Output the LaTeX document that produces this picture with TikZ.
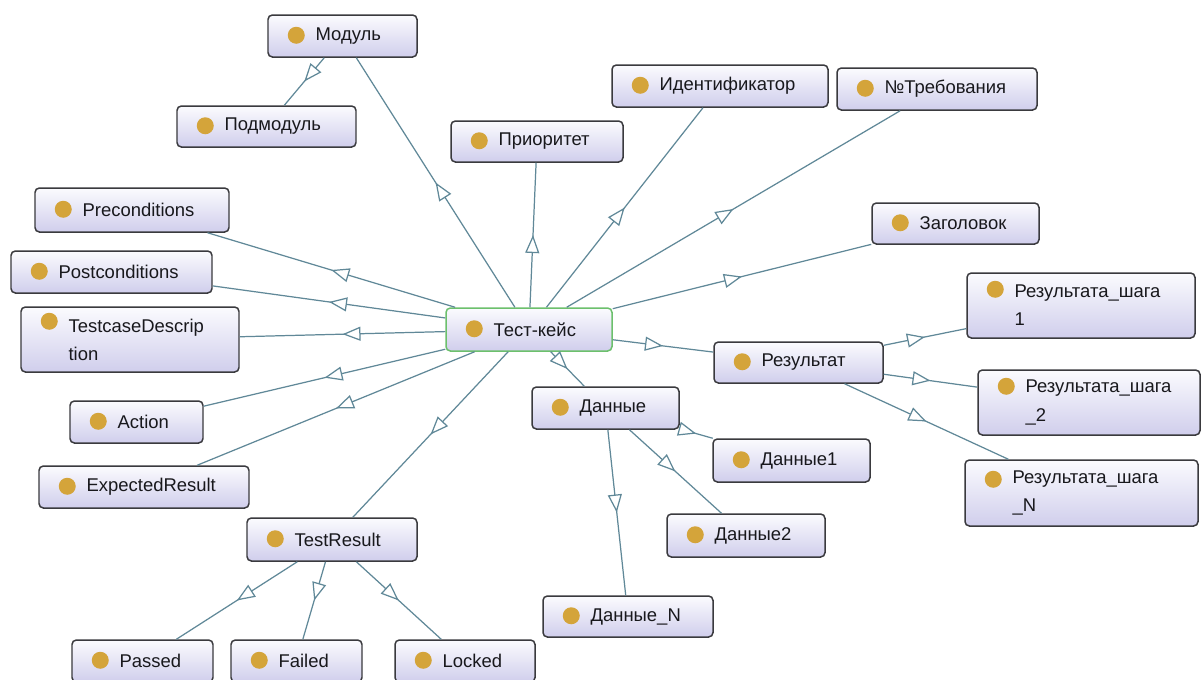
\documentclass[tikz,border=0pt]{standalone}
\usepackage{fontspec}
\setmainfont{Liberation Sans}
\usetikzlibrary{arrows.meta,decorations.markings}

\definecolor{boxline}{RGB}{58,58,62}
\definecolor{boxtop}{RGB}{251,251,254}
\definecolor{boxbot}{RGB}{208,206,236}
\definecolor{hubline}{RGB}{108,192,108}
\definecolor{linkc}{RGB}{96,136,152}
\definecolor{dotc}{RGB}{212,164,58}
\definecolor{txt}{RGB}{24,24,28}

% one pixel of the layout grid
\def\px{*0.02cm}

\tikzset{
  entity/.style={draw=boxline, line width=0.85pt, rounded corners=2.5pt,
    top color=boxtop, bottom color=boxbot, inner sep=0pt},
  hub/.style={entity, draw=hubline},
  lbl/.style={font=\fontsize{10.5}{16}\selectfont, text=txt, inner sep=0pt,
    anchor=west, align=left},
  link/.style={draw=linkc, line width=0.7pt, postaction={decorate},
    decoration={markings, mark=at position 0.5 with
      {\arrow{Triangle[length=0.36cm,width=0.28cm,fill=white,line width=0.7pt]}}}},
}

% class box: [style]{name}{cx}{cy}{width}{height}{dot offset from top}{label}
\newcommand\ent[8][entity]{%
  \node[#1, minimum width=#5\px, minimum height=#6\px] (#2) at (#3,#4) {};
  \fill[dotc] ([xshift=29\px, yshift=-#7\px]#2.north west) circle[radius=0.17cm];
  \node[lbl] (#2-t) at ([xshift=48\px]#2.west) {#8};
}

\begin{document}
\begin{tikzpicture}[x=0.02cm, y=-0.02cm]
\fill[white] (0,0) rectangle (1201,680);
\useasboundingbox (0,0) rectangle (1201,680);

\ent{modul}{342.5}{36}{149}{42}{21}{Модуль}
\ent{podmodul}{266.5}{126.5}{179}{41}{20.5}{Подмодуль}
\ent{prioritet}{537}{141.5}{172}{41}{20.5}{Приоритет}
\ent{ident}{720}{86}{216}{42}{21}{Идентификатор}
\ent{treb}{937}{89}{200}{42}{21}{№Требования}
\ent{zagolovok}{955.5}{223.5}{167}{41}{20.5}{Заголовок}
\ent{precond}{132}{210}{194}{44}{22}{Preconditions}
\ent{postcond}{111.5}{272}{201}{42}{21}{Postconditions}
\ent{tcdesc}{130}{339.5}{218}{65}{15}{TestcaseDescrip\\tion}
\ent[hub]{testcase}{529}{329.5}{166}{43}{21.5}{Тест-кейс}
\ent{action}{136.5}{422}{133}{42}{21}{Action}
\ent{expected}{144}{487}{210}{42}{21}{ExpectedResult}
\ent{testresult}{332}{539.5}{170}{43}{21.5}{TestResult}
\ent{passed}{142.5}{661}{141}{42}{21}{Passed}
\ent{failed}{296.5}{661}{131}{42}{21}{Failed}
\ent{locked}{465}{661}{140}{42}{21}{Locked}
\ent{dannye}{605.5}{408}{147}{42}{21}{Данные}
\ent{dannye1}{791.5}{460.5}{157}{43}{21.5}{Данные1}
\ent{dannye2}{746}{535.5}{158}{43}{21.5}{Данные2}
\ent{dannyeN}{628}{616.5}{170}{41}{20.5}{Данные\_N}
\ent{rezultat}{798.5}{362.5}{169}{41}{20.5}{Результат}
\ent{rs1}{1081}{305.5}{228}{65}{17}{Результата\_шага\\1}
\ent{rs2}{1089}{402.5}{222}{65}{17}{Результата\_шага\\\_2}
\ent{rsN}{1081.5}{493}{233}{66}{20}{Результата\_шага\\\_N}

% subclass links, clipped at the box borders
\foreach \t in {modul,prioritet,ident,treb,zagolovok,precond,postcond,
                tcdesc,action,expected,testresult,dannye,rezultat}
  \draw[link] (testcase) -- (\t);
\draw[link] (modul) -- (podmodul);
\foreach \t in {passed,failed,locked}
  \draw[link] (testresult) -- (\t);
\foreach \t in {dannye1,dannye2,dannyeN}
  \draw[link] (dannye) -- (\t);
\foreach \t in {rs1,rs2,rsN}
  \draw[link] (rezultat) -- (\t);
\end{tikzpicture}
\end{document}
